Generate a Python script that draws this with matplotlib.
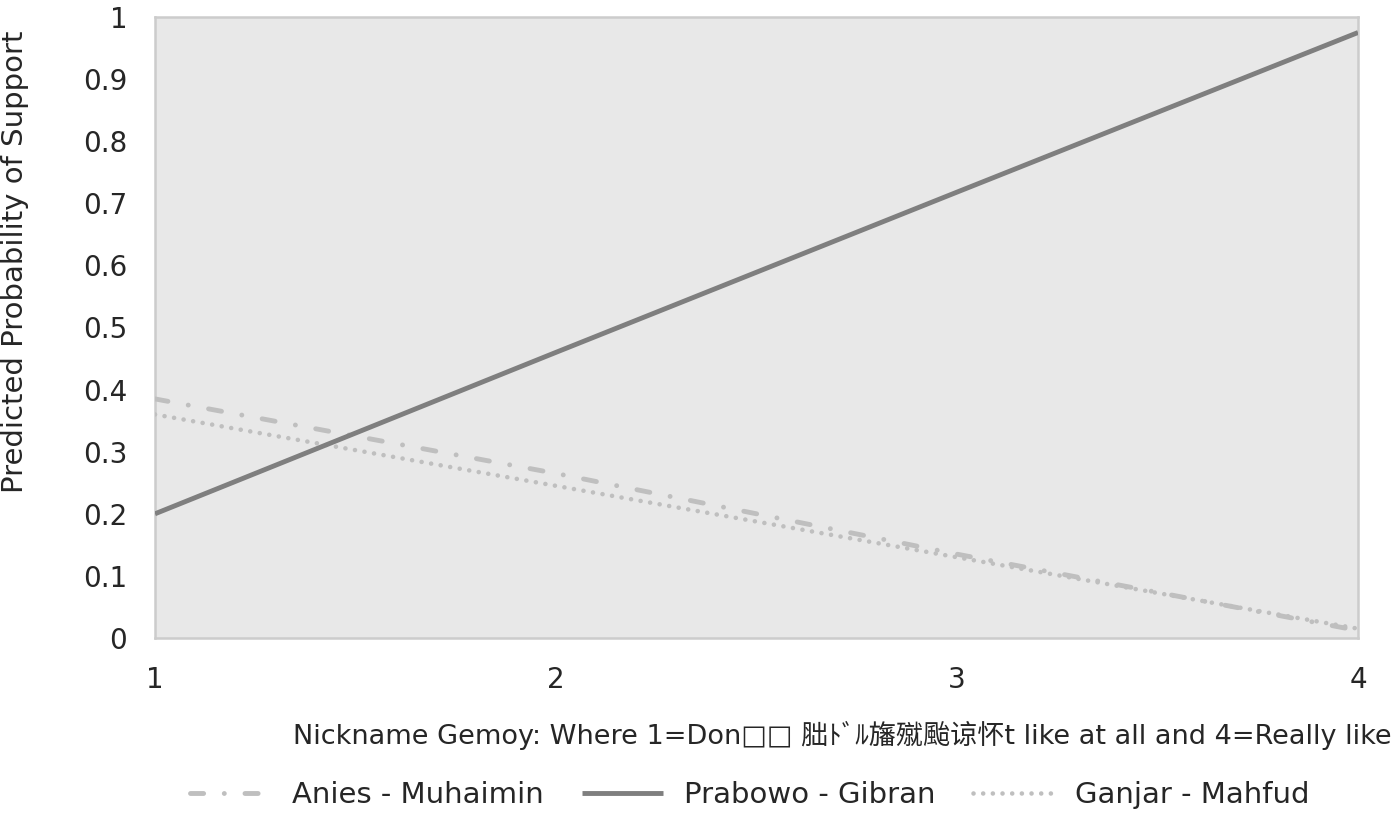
import matplotlib
matplotlib.use('Agg')
import matplotlib.pyplot as plt

# data
x_vals = [1, 2, 3, 4]
anies = [0.385, 0.265, 0.135, 0.012]
prabowo = [0.200, 0.460, 0.718, 0.975]
ganjar = [0.360, 0.245, 0.130, 0.015]
y_ticks = [0, 0.1, 0.2, 0.3, 0.4, 0.5, 0.6, 0.7, 0.8, 0.9, 1]
y_labels = ['0', '0.1', '0.2', '0.3', '0.4', '0.5', '0.6', '0.7', '0.8', '0.9', '1']

fam = ['DejaVu Sans', 'Noto Sans CJK JP']
plt.rcParams['font.family'] = fam

fig = plt.figure(figsize=(13.96, 8.21), dpi=100)
ax = fig.add_axes([155/1396, 1-638/821, (1358-155)/1396, (638-17)/821])
ax.set_facecolor('#e8e8e8')

ax.plot(x_vals, anies, color='#bfbfbf', lw=3.5, dashes=(2.7, 4.25, 0.01, 4.25),
        dash_capstyle='round', label='Anies - Muhaimin', zorder=3)
ax.plot(x_vals, prabowo, color='#7f7f7f', lw=3.5, solid_capstyle='butt',
        label='Prabowo - Gibran', zorder=4)
ax.plot(x_vals, ganjar, color='#bfbfbf', lw=3.3, dashes=(0.01, 2.1),
        dash_capstyle='round', label='Ganjar - Mahfud', zorder=3)

ax.set_xlim(1, 4)
ax.set_ylim(0, 1)
ax.set_xticks(x_vals)
ax.set_xticklabels([str(v) for v in x_vals], fontsize=20, color='#262626')
ax.set_yticks(y_ticks)
ax.set_yticklabels(y_labels, fontsize=20, color='#262626')
ax.tick_params(axis='both', length=0)
ax.tick_params(axis='x', pad=20)
ax.tick_params(axis='y', pad=20)
for s in ax.spines.values():
    s.set_color('#cccccc')
    s.set_linewidth(1.8)

fig.text(15/1396, 1-262/821, 'Predicted Probability of Support', rotation=90,
         ha='center', va='center', fontsize=21, color='#262626')
fig.text(1392/1396, 1-735/821,
         'Nickname Gemoy: Where 1=Don□□ 胐ﾄﾞﾙ旛殧颱谅怀t like at all and 4=Really like',
         ha='right', va='center', fontsize=19.5, color='#262626')

leg = fig.legend(loc='center', bbox_to_anchor=(750/1396, 1-795/821), ncol=3,
                 frameon=False, handlelength=2.8, handletextpad=0.7,
                 columnspacing=1.3, prop={'size': 21})
for t in leg.get_texts():
    t.set_color('#262626')

fig.savefig('out.png', dpi=100)
